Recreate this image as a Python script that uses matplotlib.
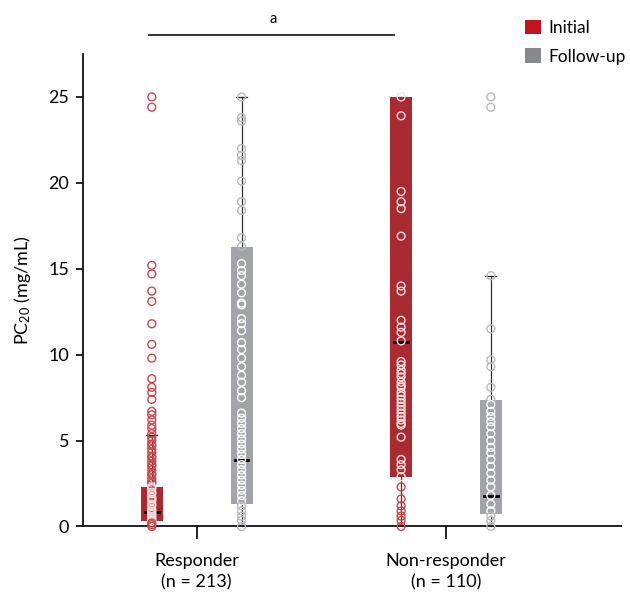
import numpy as np
import matplotlib
matplotlib.use("Agg")
import matplotlib.pyplot as plt
from matplotlib.patches import Patch, Rectangle

plt.rcParams["font.family"] = ["Lato", "DejaVu Sans"]
plt.rcParams["mathtext.fontset"] = "custom"
plt.rcParams["mathtext.rm"] = "Lato"
plt.rcParams["mathtext.it"] = "Lato:italic"

# groups and labels
groups = ["Responder\n(n = 213)", "Non-responder\n(n = 110)"]
series = ["Initial", "Follow-up"]

# individual PC20 values (mg/mL)
resp_initial = [25.0, 24.4, 15.2, 14.7, 13.7, 13.1, 11.8, 10.6, 9.8, 8.6, 8.1, 7.8,
                7.4, 6.7, 6.5, 6.2, 5.9, 5.7, 5.4, 5.2, 5.0, 4.8, 4.7, 4.5, 4.3, 4.1,
                4.0, 3.8, 3.6, 3.5, 3.3, 3.1, 3.0, 2.8, 2.6, 2.5, 2.3, 2.2, 2.0, 1.9,
                1.7, 1.6, 1.5, 1.3, 1.2, 1.0, 0.9, 0.8, 0.7, 0.6, 0.5, 0.4, 0.3, 0.2,
                0.1, 0.0]
resp_followup = [25.0, 23.8, 23.6, 22.0, 21.6, 21.3, 20.1, 18.9, 18.4, 16.8, 16.3,
                 15.3, 14.9, 14.6, 14.1, 13.6, 13.0, 12.9, 12.1, 11.8, 11.4, 10.7,
                 10.3, 9.8, 9.3, 8.8, 8.4, 7.9, 7.5, 6.6, 6.3, 6.0, 5.7, 5.4, 5.1,
                 4.8, 4.5, 4.2, 3.9, 3.6, 3.3, 3.0, 2.7, 2.4, 2.1, 1.8, 1.5, 1.2,
                 0.9, 0.6, 0.35, 0.0]
nonresp_initial = [25.0, 23.9, 19.5, 18.9, 18.5, 16.9, 14.0, 13.7, 12.0, 11.6, 11.3,
                   10.8, 9.6, 9.4, 9.1, 8.9, 8.7, 8.4, 8.2, 8.1, 7.8, 7.6, 7.4, 7.2,
                   7.0, 6.8, 6.6, 6.4, 6.2, 6.0, 5.9, 5.2, 3.9, 3.6, 3.3, 2.9, 2.3,
                   1.6, 1.2, 0.9, 0.6, 0.35, 0.0]
nonresp_followup = [25.0, 24.4, 14.6, 11.5, 9.7, 9.3, 8.1, 7.4, 7.1, 6.7, 6.4, 6.1,
                    5.8, 5.4, 5.0, 4.6, 4.3, 3.9, 3.5, 3.1, 2.7, 2.3, 1.8, 1.3, 0.9,
                    0.6, 0.35, 0.0]

# box summaries (resp initial, resp follow-up, non-resp initial, non-resp follow-up)
q1 = [0.3, 1.3, 2.9, 0.75]
med = [0.85, 3.85, 10.75, 1.8]
q3 = [2.3, 16.25, 25.0, 7.35]
whislo = [0.0, 0.0, 0.0, 0.0]
whishi = [5.3, 25.0, 25.0, 14.6]

RED = "#aa2a32"
GREY = "#a2a4aa"
RED_LEG = "#c0141e"
GREY_LEG = "#87888c"
RED_PT = "#c8484c"
GREY_PT = "#b8b9bd"

fig = plt.figure(figsize=(6.3, 5.98), dpi=100)
ax = fig.add_axes([0.1317, 0.1196, 0.8540, 0.7901])

values = [resp_initial, resp_followup, nonresp_initial, nonresp_followup]
offs = 0.18
pos = [0 - offs, 0 + offs, 1 - offs, 1 + offs]
box_cols = [RED, GREY, RED, GREY]
pt_cols = [RED_PT, GREY_PT, RED_PT, GREY_PT]
inside_cols = ["#f3dede", "#ffffff", "#f3dede", "#ffffff"]
bw = 0.088

for i in range(4):
    x = pos[i]
    # whisker + caps
    ax.plot([x, x], [whislo[i], whishi[i]], color="#333333", lw=0.9, zorder=1)
    ax.plot([x - 0.022, x + 0.022], [whishi[i]] * 2, color="#222222", lw=0.9, zorder=1)
    ax.add_patch(Rectangle((x - bw / 2, q1[i]), bw, q3[i] - q1[i],
                           facecolor=box_cols[i], edgecolor="none", zorder=2))
    ax.plot([x - 0.027, x + 0.027], [med[i]] * 2, color="black", lw=2.0, zorder=3)
    v = np.array(values[i])
    inside = (v >= q1[i]) & (v <= q3[i])
    cols = [inside_cols[i] if f else pt_cols[i] for f in inside]
    ax.scatter(np.full(len(v), x), v, s=32, facecolors="none", edgecolors=cols,
               linewidths=1.0, zorder=4, clip_on=False)

ax.set_xlim(-0.456, 1.702)
ax.set_ylim(0, 27.5)
ax.set_yticks([0, 5, 10, 15, 20, 25])
ax.set_xticks([0, 1])
ax.set_xticklabels(groups, linespacing=1.45)
ax.tick_params(axis="y", length=5, width=1.2, labelsize=13, pad=5)
ax.tick_params(axis="x", length=9, width=1.2, labelsize=13, pad=10)
for s in ["top", "right"]:
    ax.spines[s].set_visible(False)
for s in ["left", "bottom"]:
    ax.spines[s].set_linewidth(1.3)
    ax.spines[s].set_color("#111111")
ax.set_ylabel("PC$_{20}$ (mg/mL)", fontsize=13, labelpad=11)

# significance bar
ax.plot([-0.193, 0.791], [28.63, 28.63], color="#222222", lw=1.3, clip_on=False)
ax.text(0.305, 29.55, "a", ha="center", va="center", fontsize=10.5)

handles = [Patch(facecolor=RED_LEG, edgecolor="none"),
           Patch(facecolor=GREY_LEG, edgecolor="none")]
fig.legend(handles, series, loc="upper left", bbox_to_anchor=(525 / 630, 1 - 20 / 598),
           frameon=False, fontsize=12.5, handlelength=0.9, handleheight=0.9,
           handletextpad=0.45, labelspacing=0.7, borderaxespad=0, borderpad=0)

fig.savefig("out.png", dpi=100)
